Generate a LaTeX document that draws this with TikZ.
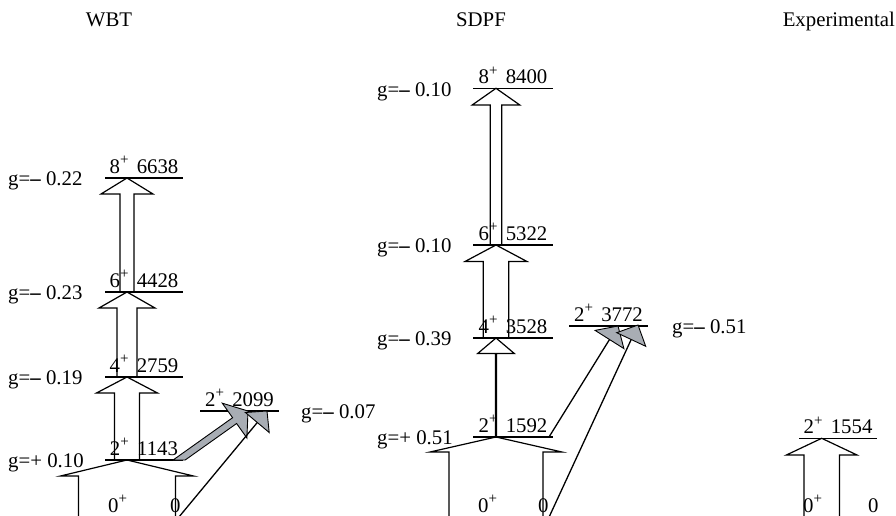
\documentclass[tikz,border=0pt]{standalone}
\usepackage{fontspec}
\setmainfont{Liberation Serif}
\definecolor{arrowgray}{RGB}{168,173,180}
\newcommand\blkarrow[7]{%
  \draw[barrow] ({#1-#6},#3) -- ({#1-#6},{#2+#4}) -- ({#1-#5},{#2+#4}) -- (#1,#2) coordinate (#7)
    -- ({#1+#5},{#2+#4}) -- ({#1+#6},{#2+#4}) -- ({#1+#6},#3) -- cycle;}
\newcommand\spl{\raisebox{0.42em}{\fontsize{15}{15}\selectfont +}}
\newcommand\lv[2]{#1\spl\hspace{0.40em}#2}
\newcommand\mns{\textbf{–}}
\begin{document}
\begin{tikzpicture}[x=1pt,y=-1pt,
  txt/.style={font=\fontsize{20.8}{25}\selectfont, inner sep=0pt},
  lvl/.style={line width=1.3pt},
  barrow/.style={draw=black, fill=white, line width=1.2pt, line join=miter},
  garrow/.style={draw=black, fill=arrowgray, line width=0.9pt, line join=miter},
  gshaft/.style={line width=1.3pt}]
\useasboundingbox (0,0) rectangle (896,516);
\clip (0,0) rectangle (896,516);

% headers
\node[txt, anchor=base] (hw) at (109,27) {WBT};
\node[txt, anchor=base] (hs) at (481,27) {SDPF};
\node[txt, anchor=base east] (he) at (895,27) {Experimental};

% ---- block arrows (B(E2)) ----
% WBT
\blkarrow{127}{460}{540}{16}{66.5}{48.5}{tw2}
\blkarrow{127}{377}{460}{16}{30.5}{12.5}{tw4}
\blkarrow{127}{292}{377}{16}{28}{10}{tw6}
\blkarrow{127}{178}{292}{16}{26}{7}{tw8}
% SDPF
\blkarrow{496}{437}{540}{15}{66}{47}{ts2}
\blkarrow{496}{338}{437}{15.5}{18.3}{0.5}{ts4}
\blkarrow{496}{245}{338}{16.5}{31}{12.8}{ts6}
\blkarrow{496}{88.3}{245}{16.7}{23.8}{5.8}{ts8}
% Experimental
\blkarrow{821.7}{438.3}{540}{16.7}{35.3}{17.8}{te2}

% ---- level lines ----
\draw[lvl] (105,178) coordinate (w8a) -- (183,178) coordinate (w8b);
\draw[lvl] (105,292) coordinate (w6a) -- (183,292) coordinate (w6b);
\draw[lvl] (105,377) coordinate (w4a) -- (183,377) coordinate (w4b);
\draw[lvl] (105,460) coordinate (w2a) -- (183,460) coordinate (w2b);
\draw[lvl] (200,411) coordinate (wxa) -- (279,411) coordinate (wxb);
\draw[lvl] (473,88.3) coordinate (s8a) -- (553,88.3) coordinate (s8b);
\draw[lvl] (473,245) coordinate (s6a) -- (553,245) coordinate (s6b);
\draw[lvl] (473,338) coordinate (s4a) -- (553,338) coordinate (s4b);
\draw[lvl] (473,437) coordinate (s2a) -- (553,437) coordinate (s2b);
\draw[lvl] (569,326) coordinate (sxa) -- (648,326) coordinate (sxb);
\draw[lvl] (799,438.3) coordinate (e2a) -- (877,438.3) coordinate (e2b);

% ---- gray arrows WBT ----
\coordinate (wgs) at (179,460);
\draw[garrow] (173.1,460) -- (232.6,417.7) -- (222.3,403.2) -- (248,411) coordinate (wgt)
  -- (246.9,438) -- (236.6,423.5) -- (185.2,460) -- cycle;
\coordinate (wts) at (172.3,525);
\coordinate (wtc) at (257.3,422.5);
\draw[gshaft] (wts) -- (wtc);
\draw[garrow] (245.4,412.5) -- (267,411) coordinate (wtt) -- (269.2,432.5) -- cycle;

% ---- gray arrows SDPF ----
\coordinate (sas) at (549,437);
\coordinate (sac) at (609.5,339.5);
\draw[gshaft] (sas) -- (sac);
\draw[garrow] (595.1,330.4) -- (618,326) coordinate (sat) -- (623.9,348.6) -- cycle;
\coordinate (sbs) at (545.4,525);
\coordinate (sbc) at (631.2,339.5);
\draw[gshaft] (sbs) -- (sbc);
\draw[garrow] (616.7,332.7) -- (638,325) coordinate (sbt) -- (645.7,346.3) -- cycle;

% ---- level labels ----
\node[txt, anchor=base] (lw8) at (144,173.5) {\lv{8}{6638}};
\node[txt, anchor=base] (lw6) at (144,287.5) {\lv{6}{4428}};
\node[txt, anchor=base] (lw4) at (144,372.5) {\lv{4}{2759}};
\node[txt, anchor=base] (lw2) at (144,455.5) {\lv{2}{1143}};
\node[txt, anchor=base] (lwx) at (239.5,406.5) {\lv{2}{2099}};
\node[txt, anchor=base] (ls8) at (513,83.8) {\lv{8}{8400}};
\node[txt, anchor=base] (ls6) at (513,240.5) {\lv{6}{5322}};
\node[txt, anchor=base] (ls4) at (513,333.5) {\lv{4}{3528}};
\node[txt, anchor=base] (ls2) at (513,432.5) {\lv{2}{1592}};
\node[txt, anchor=base] (lsx) at (608.5,321.5) {\lv{2}{3772}};
\node[txt, anchor=base] (le2) at (838,433.8) {\lv{2}{1554}};

% ground-state labels
\node[txt, anchor=base west] (gw0) at (108,512) {0\spl};
\node[txt, anchor=base west] (gw1) at (170,512) {0};
\node[txt, anchor=base west] (gs0) at (478,512) {0\spl};
\node[txt, anchor=base west] (gs1) at (538,512) {0};
\node[txt, anchor=base west] (ge0) at (803,512) {0\spl};
\node[txt, anchor=base west] (ge1) at (868,512) {0};

% ---- g factors ----
\node[txt, anchor=base west] (gw8) at (8,185.5) {g=\mns\ 0.22};
\node[txt, anchor=base west] (gw6) at (8,299.5) {g=\mns\ 0.23};
\node[txt, anchor=base west] (gw4) at (8,384.5) {g=\mns\ 0.19};
\node[txt, anchor=base west] (gw2) at (8,467.5) {g=+ 0.10};
\node[txt, anchor=base west] (gwx) at (301,418.5) {g=\mns\ 0.07};
\node[txt, anchor=base west] (gs8) at (377,96.3) {g=\mns\ 0.10};
\node[txt, anchor=base west] (gs6) at (377,252.5) {g=\mns\ 0.10};
\node[txt, anchor=base west] (gs4) at (377,345.5) {g=\mns\ 0.39};
\node[txt, anchor=base west] (gs2) at (377,444.5) {g=+ 0.51};
\node[txt, anchor=base west] (gsx) at (672,333.5) {g=\mns\ 0.51};
\end{tikzpicture}
\end{document}
